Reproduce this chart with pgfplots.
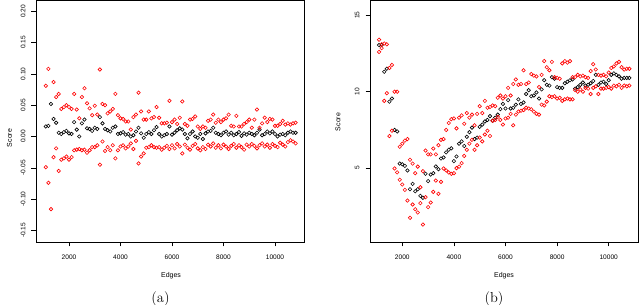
\documentclass[border=0pt]{standalone}
\usepackage{pgfplots}
\pgfplotsset{compat=1.18}
\usepackage{pgfplotstable}
\usepackage{fontspec}
\newfontfamily\plotfont{Liberation Sans}

\pgfplotstableread{
x bk ru rl
1100 0.016 0.081 -0.049
1200 0.017 0.108 -0.074
1300 0.052 0.220 -0.116
1400 0.028 0.087 -0.033
1500 0.022 0.063 -0.019
1600 0.006 0.068 -0.055
1700 0.004 0.044 -0.037
1800 0.007 0.047 -0.035
1900 0.009 0.050 -0.032
2000 0.005 0.047 -0.037
2100 0.004 0.044 -0.033
2200 0.023 0.068 -0.022
2300 0.011 0.043 -0.021
2400 0.000 0.029 -0.020
2500 0.021 0.063 -0.022
2600 0.027 0.077 -0.021
2700 0.013 0.053 -0.026
2800 0.012 0.045 -0.022
2900 0.009 0.034 -0.017
3000 0.014 0.049 -0.017
3100 0.012 0.035 -0.014
3200 0.031 0.107 -0.045
3300 0.021 0.052 -0.008
3400 0.012 0.050 -0.023
3500 0.010 0.037 -0.017
3600 0.008 0.040 -0.022
3700 0.014 0.044 -0.014
3800 0.016 0.068 -0.035
3900 0.004 0.034 -0.022
4000 0.005 0.029 -0.016
4100 0.007 0.028 -0.014
4200 0.003 0.024 -0.019
4300 0.004 0.024 -0.016
4400 0.000 0.011 -0.011
4500 0.002 0.031 -0.020
4600 0.008 0.035 -0.007
4700 0.014 0.070 -0.043
4800 0.005 0.040 -0.032
4900 -0.002 0.027 -0.027
5000 0.004 0.027 -0.018
5100 0.007 0.040 -0.017
5200 0.004 0.029 -0.014
5300 0.010 0.031 -0.017
5400 0.015 0.047 -0.018
5500 0.004 0.030 -0.017
5600 0.000 0.021 -0.021
5700 0.002 0.021 -0.018
5800 0.004 0.022 -0.015
5900 0.016 0.057 -0.020
6000 0.003 0.023 -0.014
6100 0.006 0.027 -0.019
6200 0.010 0.020 -0.012
6300 0.013 0.030 -0.016
6400 0.011 0.056 -0.027
6500 0.004 0.020 -0.013
6600 -0.003 0.017 -0.018
6700 0.004 0.027 -0.021
6800 0.008 0.028 -0.015
6900 0.000 0.032 -0.012
7000 -0.002 0.016 -0.019
7100 0.004 0.012 -0.022
7200 -0.004 0.016 -0.017
7300 0.005 0.014 -0.020
7400 0.008 0.025 -0.013
7500 0.009 0.027 -0.016
7600 0.014 0.035 -0.011
7700 0.006 0.022 -0.018
7800 0.004 0.027 -0.014
7900 0.002 0.023 -0.019
8000 0.006 0.027 -0.013
8100 0.008 0.029 -0.016
8200 0.003 0.035 -0.020
8300 0.006 0.017 -0.015
8400 0.002 0.016 -0.012
8500 0.004 0.033 -0.018
8600 0.007 0.016 -0.014
8700 0.001 0.016 -0.017
8800 0.005 0.020 -0.021
8900 0.003 0.023 -0.013
9000 0.006 0.027 -0.016
9100 0.004 0.014 -0.012
9200 0.002 0.027 -0.015
9300 0.006 0.043 -0.019
9400 0.011 0.014 -0.014
9500 0.002 0.021 -0.011
9600 0.004 0.030 -0.016
9700 0.008 0.023 -0.013
9800 0.005 0.028 -0.018
9900 0.008 0.027 -0.012
10000 0.004 0.017 -0.015
10100 0.000 0.017 -0.017
10200 0.003 0.020 -0.010
10300 0.004 0.025 -0.013
10400 0.002 0.019 -0.016
10500 0.006 0.021 -0.009
10600 0.008 0.019 -0.006
10700 0.006 0.021 -0.008
10800 0.006 0.022 -0.011
}\tabA

\pgfplotstableread{
x bk ru rl
1100 13.05 13.4 12.6
1200 13.05 13.1 12.85
1300 11.3 13.15 9.4
1400 11.5 13.1 9.9
1500 9.35 11.55 7.1
1600 9.55 11.75 7.45
1700 7.5 10.0 4.98
1800 7.4 10.0 4.72
1900 5.3 6.4 4.24
2000 5.25 6.6 3.93
2100 5.15 6.8 3.58
2200 4.85 6.9 2.88
2300 3.62 5.55 1.75
2400 3.97 5.3 2.62
2500 3.49 4.67 2.31
2600 3.62 5.1 2.1
2700 3.19 3.75 2.71
2800 3.06 4.8 1.31
2900 4.63 6.15 3.1
3000 4.15 5.9 2.45
3100 4.58 5.9 2.75
3200 4.67 6.28 3.45
3300 5.11 5.9 4.19
3400 4.93 6.5 3.32
3500 5.63 6.85 4.1
3600 5.7 6.9 4.98
3700 6.03 7.5 4.85
3800 6.2 7.95 4.72
3900 6.3 8.2 4.63
4000 5.46 8.25 4.67
4100 5.76 7.6 5.0
4200 6.6 8.3 5.1
4300 6.75 8.45 5.33
4400 6.45 7.9 5.8
4500 7.05 8.6 6.2
4600 7.35 8.3 6.6
4700 7.65 8.5 6.85
4800 6.9 7.8 6.2
4900 7.0 8.55 6.5
5000 7.7 9.05 7.0
5100 7.85 8.6 6.75
5200 8.05 9.4 7.2
5300 8.15 8.95 7.45
5400 8.4 9.0 7.1
5500 8.1 9.1 8.1
5600 8.3 9.05 8.15
5700 8.5 9.6 8.35
5800 8.86 9.75 8.15
5900 9.2 9.55 7.85
6000 8.9 9.7 8.25
6100 9.45 10.25 8.3
6200 8.9 9.75 8.55
6300 8.95 10.5 7.8
6400 9.15 10.8 8.5
6500 9.5 10.45 8.7
6600 9.2 10.5 8.75
6700 9.3 11.4 8.8
6800 9.85 10.5 8.95
6900 10.1 10.6 8.9
7000 9.7 11.15 8.85
7100 9.75 11.05 8.7
7200 9.95 11.0 8.55
7300 9.55 10.3 8.5
7400 10.15 11.1 9.15
7500 10.75 12.0 9.1
7600 10.45 11.6 9.35
7700 10.4 11.4 9.7
7800 10.95 11.95 9.65
7900 10.85 10.95 9.7
8000 10.3 10.9 9.55
8100 10.25 10.85 9.6
8200 10.25 11.85 9.4
8300 10.55 12.0 9.5
8400 10.65 11.9 9.55
8500 10.75 12.0 9.5
8600 10.8 10.95 9.5
8700 10.2 10.95 10.1
8800 10.3 11.1 10.0
8900 10.45 11.0 10.15
9000 10.6 11.05 10.0
9100 10.4 10.95 10.25
9200 10.45 10.9 10.2
9300 10.55 11.35 9.85
9400 10.7 11.8 10.25
9500 11.1 11.45 10.35
9600 10.45 11.1 9.85
9700 10.6 11.05 10.2
9800 10.65 11.1 10.2
9900 10.5 11.0 10.25
10000 10.75 11.25 10.3
10100 11.1 11.55 10.2
10200 11.2 11.65 10.4
10300 11.1 11.85 10.35
10400 11.0 11.95 10.45
10500 10.85 11.6 10.25
10600 10.9 11.45 10.4
10700 10.9 11.5 10.35
10800 10.9 11.5 10.4
}\tabB

\pgfplotsset{
  rplot/.style={
    scale only axis, anchor=south west,
    height=242bp,
    axis line style={line width=0.7bp},
    tick align=outside, major tick length=4.5bp,
    tick style={black, line width=0.6bp},
    xtick pos=bottom, ytick pos=left,
    scaled x ticks=false, scaled y ticks=false,
    xtick={2000,4000,6000,8000,10000},
    xticklabels={2000,4000,6000,8000,10000},
    ticklabel style={font=\plotfont\fontsize{6.6}{7}\selectfont},
    xticklabel style={anchor=north, yshift=-4.5bp},
    yticklabel style={xshift=-2.5bp, rotate=90, anchor=south},
    clip marker paths=true,
    only marks,
  },
  bkm/.style={black, mark=o, mark size=1.75bp, mark options={line width=0.6bp}},
  rdm/.style={red, mark=o, mark size=1.75bp, mark options={line width=0.6bp}},
}

\begin{document}
\begin{tikzpicture}
\path[use as bounding box] (0bp,0bp) rectangle (640bp,305bp);

\begin{axis}[rplot, at={(36bp,63bp)}, width=268.5bp,
  xmin=718, xmax=11146, ymin=-0.1685, ymax=0.218,
  ytick={-0.15,-0.10,-0.05,0,0.05,0.10,0.15,0.20},
  yticklabels={-0.15,-0.10,-0.05,0.00,0.05,0.10,0.15,0.20}]
\addplot[bkm] table[x=x,y=bk] {\tabA};
\addplot[rdm] table[x=x,y=ru] {\tabA};
\addplot[rdm] table[x=x,y=rl] {\tabA};
\end{axis}

\begin{axis}[rplot, at={(370bp,63bp)}, width=268bp,
  xmin=748, xmax=11136, ymin=0.17, ymax=15.996,
  ytick={5,10,15}, yticklabels={5,10,15}]
\addplot[bkm] table[x=x,y=bk] {\tabB};
\addplot[rdm] table[x=x,y=ru] {\tabB};
\addplot[rdm] table[x=x,y=rl] {\tabB};
\end{axis}

\node[font=\plotfont\fontsize{7}{8}\selectfont] at (171bp,29bp) {Edges};
\node[font=\plotfont\fontsize{7}{8}\selectfont] at (504bp,29bp) {Edges};
\node[font=\plotfont\fontsize{7}{8}\selectfont, rotate=90] at (9.5bp,167bp) {Score};
\node[font=\plotfont\fontsize{7}{8}\selectfont, rotate=90] at (338bp,183bp) {Score};
\node[font=\fontsize{14.5}{16}\selectfont, anchor=base, inner sep=0pt] at (160.5bp,2.8bp) {(a)};
\node[font=\fontsize{14.5}{16}\selectfont, anchor=base, inner sep=0pt] at (494bp,2.8bp) {(b)};
\end{tikzpicture}
\end{document}
